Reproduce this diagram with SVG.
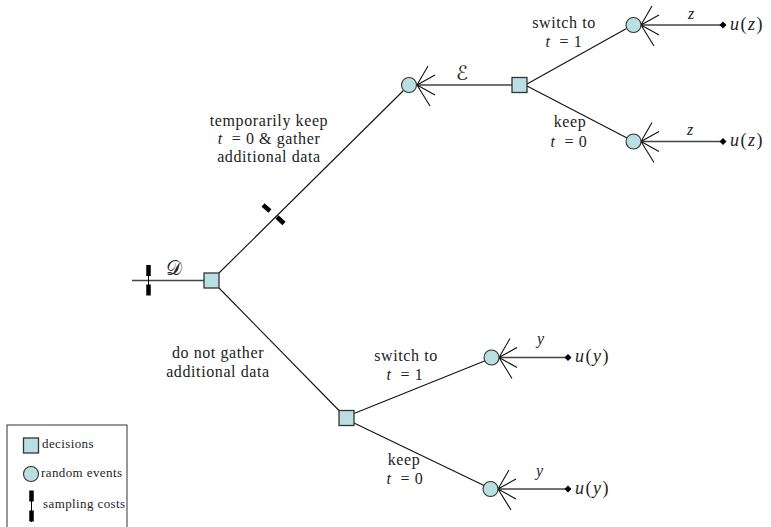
<svg xmlns="http://www.w3.org/2000/svg" width="771" height="527" viewBox="0 0 771 527">
<defs>
<style>
.dec{fill:#b9dfe1;stroke:#333;stroke-width:1.3}
.chn{fill:#b9dfe1;stroke:#333;stroke-width:1.1}
.ln{stroke:#111;stroke-width:1.1;fill:none}
.hz{stroke:#444;stroke-width:1.4;fill:none}
.fan{stroke:#111;stroke-width:1.1;fill:none}
.cost{stroke:#000;stroke-width:4.5;fill:none}
.txt{font-family:"Liberation Serif",serif;font-size:16px;letter-spacing:0.6px;fill:#222}
.it{font-style:italic}
.mth{font-family:"Liberation Serif",serif;font-size:18px;letter-spacing:1.5px;fill:#222}
.lg{font-family:"Liberation Serif",serif;font-size:13px;letter-spacing:0.4px;fill:#222}
.cal{font-family:"DejaVu Sans","Noto Sans",sans-serif;font-size:20px;fill:#222}
</style>
<g id="fanshape"><path class="fan" d="M0,0 l11,-19 M0,0 l18,-10 M0,0 l18,10 M0,0 l13,21"/></g>
<path id="dia" d="M-3.5,0 L0,-3.5 L3.5,0 L0,3.5 Z" fill="#000"/>
</defs>
<rect width="771" height="527" fill="#fff"/>

<g id="connectors">
<line class="hz" x1="132" y1="280.5" x2="204" y2="280.5"/>
<line class="ln" x1="219" y1="273" x2="403.5" y2="90.5"/>
<line class="ln" x1="219" y1="288" x2="339" y2="410.5"/>
<line class="hz" x1="417" y1="85" x2="512" y2="85"/>
<line class="ln" x1="527" y1="84" x2="626.5" y2="28.5"/>
<line class="ln" x1="527" y1="86" x2="627" y2="138"/>
<line class="hz" x1="641" y1="25" x2="723" y2="25"/>
<line class="hz" x1="641" y1="141.5" x2="723" y2="141.5"/>
<line class="ln" x1="354" y1="413.5" x2="484.5" y2="361"/>
<line class="ln" x1="354" y1="423" x2="484" y2="485.5"/>
<line class="hz" x1="499" y1="357.5" x2="568" y2="357.5"/>
<line class="hz" x1="498" y1="489" x2="568" y2="489"/>
<use href="#fanshape" x="417" y="85"/>
<use href="#fanshape" x="641" y="25"/>
<use href="#fanshape" x="641" y="141.5"/>
<use href="#fanshape" x="499" y="357.5"/>
<use href="#fanshape" x="498" y="489"/>
<use href="#dia" x="723" y="25"/>
<use href="#dia" x="723" y="141.5"/>
<use href="#dia" x="568" y="357.5"/>
<use href="#dia" x="568" y="489"/>
<line x1="148.5" y1="266" x2="148.5" y2="295" stroke="#000" stroke-width="1"/>
<line class="cost" x1="148.5" y1="265" x2="148.5" y2="276"/>
<line class="cost" x1="148.5" y1="284.5" x2="148.5" y2="295.5"/>
<line class="cost" x1="263" y1="205" x2="270" y2="211"/>
<line class="cost" x1="277" y1="217" x2="284" y2="223.5"/>
</g>

<g id="node-root"><rect class="dec" x="204" y="273" width="15" height="15"/></g>
<g id="node-sample"><circle class="chn" cx="409" cy="85" r="7.5"/></g>
<g id="node-decE"><rect class="dec" x="512" y="77.5" width="15" height="15"/></g>
<g id="node-z1"><circle class="chn" cx="633.5" cy="25" r="7.5"/></g>
<g id="node-z0"><circle class="chn" cx="633.5" cy="141.5" r="7.5"/></g>
<g id="node-decD"><rect class="dec" x="339" y="410.5" width="15" height="15"/></g>
<g id="node-y1"><circle class="chn" cx="491.5" cy="357.5" r="7.5"/></g>
<g id="node-y0"><circle class="chn" cx="490.5" cy="489" r="7.5"/></g>

<g id="labels">
<text class="cal" x="166" y="275">𝒟</text>
<text class="cal" x="456" y="80">ℰ</text>
<text class="txt" text-anchor="middle" x="269" y="126">temporarily keep</text>
<text class="txt" text-anchor="middle" x="269" y="144"><tspan class="it">t</tspan><tspan dx="9">= 0 &amp; gather</tspan></text>
<text class="txt" text-anchor="middle" x="269" y="162">additional data</text>
<text class="txt" text-anchor="middle" x="218" y="358">do not gather</text>
<text class="txt" text-anchor="middle" x="218" y="377">additional data</text>
<text class="txt" text-anchor="middle" x="564" y="28">switch to</text>
<text class="txt" text-anchor="middle" x="564" y="47"><tspan class="it">t</tspan><tspan dx="9">= 1</tspan></text>
<text class="txt" text-anchor="middle" x="570" y="127">keep</text>
<text class="txt" text-anchor="middle" x="569" y="147"><tspan class="it">t</tspan><tspan dx="9">= 0</tspan></text>
<text class="txt" text-anchor="middle" x="406" y="361">switch to</text>
<text class="txt" text-anchor="middle" x="405" y="380"><tspan class="it">t</tspan><tspan dx="9">= 1</tspan></text>
<text class="txt" text-anchor="middle" x="404" y="465">keep</text>
<text class="txt" text-anchor="middle" x="405" y="484"><tspan class="it">t</tspan><tspan dx="9">= 0</tspan></text>
<text class="txt it" x="688" y="19">z</text>
<text class="txt it" x="687" y="135">z</text>
<text class="txt it" x="537" y="344">y</text>
<text class="txt it" x="536" y="476">y</text>
<text class="mth" x="730" y="30"><tspan class="it">u</tspan>(<tspan class="it">z</tspan>)</text>
<text class="mth" x="730" y="146"><tspan class="it">u</tspan>(<tspan class="it">z</tspan>)</text>
<text class="mth" x="575" y="362"><tspan class="it">u</tspan>(<tspan class="it">y</tspan>)</text>
<text class="mth" x="575" y="494"><tspan class="it">u</tspan>(<tspan class="it">y</tspan>)</text>
</g>

<g id="legend">
<rect x="7" y="425" width="120" height="110" fill="none" stroke="#333" stroke-width="1"/>
<rect class="dec" x="23.5" y="438" width="15" height="15"/>
<text class="lg" x="42" y="448">decisions</text>
<circle class="chn" cx="31" cy="474" r="7.5"/>
<text class="lg" x="41" y="477">random events</text>
<line x1="31.5" y1="491" x2="31.5" y2="522" stroke="#000" stroke-width="1"/>
<line class="cost" x1="31.5" y1="490.5" x2="31.5" y2="501.5"/>
<line class="cost" x1="31.5" y1="510.5" x2="31.5" y2="521.5"/>
<text class="lg" x="43" y="508">sampling costs</text>
</g>
</svg>
